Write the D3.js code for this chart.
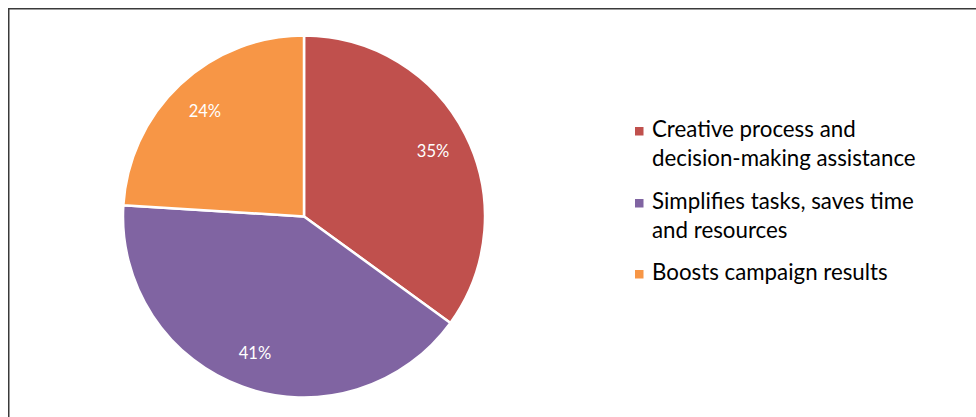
<!DOCTYPE html>
<html>
<head>
<meta charset="utf-8">
<script src="https://cdn.jsdelivr.net/npm/d3@7"></script>
<style>
  html, body { margin: 0; padding: 0; background: #fff; }
  svg { display: block; }
</style>
</head>
<body>
<svg id="chart"></svg>
<script>
const categories = [
  'Creative process and decision-making assistance',
  'Simplifies tasks, saves time and resources',
  'Boosts campaign results',
]
// legend lines as wrapped in the original
const legendLines = [
  ['Creative process and', 'decision-making assistance'],
  ['Simplifies tasks, saves time', 'and resources'],
  ['Boosts campaign results'],
]
const shares = [35, 41, 24]
const colors = ['#C0504D', '#8064A2', '#F79646']

const width = 976
const height = 417
const cx = 304
const cy = 216.5
const radius = 181

const svg = d3.select('#chart').attr('width', width).attr('height', height)

// chart frame (runs off the right and bottom edge)
svg.append('rect')
  .attr('x', 8.75).attr('y', 8.75)
  .attr('width', width + 20).attr('height', height + 20)
  .attr('fill', 'none')
  .attr('stroke', '#3a3a3a')
  .attr('stroke-width', 1.5)

const pie = d3.pie().sort(null).value((d) => d)
const arcs = pie(shares)
const arc = d3.arc().innerRadius(0).outerRadius(radius)
const labelArc = d3.arc().innerRadius(radius * 0.8).outerRadius(radius * 0.8)

const g = svg.append('g').attr('transform', `translate(${cx},${cy})`)

g.selectAll('path')
  .data(arcs)
  .join('path')
  .attr('d', arc)
  .attr('fill', (d, i) => colors[i])
  .attr('stroke', '#fff')
  .attr('stroke-width', 2.5)
  .attr('stroke-linejoin', 'round')

g.selectAll('text.pct')
  .data(arcs)
  .join('text')
  .attr('class', 'pct')
  .attr('transform', (d) => `translate(${labelArc.centroid(d)})`)
  .attr('text-anchor', 'middle')
  .attr('dy', '0.35em')
  .style('font-family', 'Lato, "Open Sans", sans-serif')
  .style('font-size', '16.5px')
  .attr('fill', '#fff')
  .text((d) => `${d.data}%`)

// legend
const legendX = 635
const itemY = d3.scaleOrdinal().domain(categories).range([137, 209, 280])
const lineGap = 28.5

const legend = svg.append('g')
const items = legend.selectAll('g')
  .data(categories)
  .join('g')
  .attr('transform', (d) => `translate(${legendX},${itemY(d)})`)

items.append('rect')
  .attr('x', 0).attr('y', -10)
  .attr('width', 8.5).attr('height', 8.5)
  .attr('fill', (d, i) => colors[i])

items.append('text')
  .attr('x', 17)
  .style('font-family', 'Lato, "Open Sans", sans-serif')
  .style('font-size', '22.3px')
  .attr('fill', '#000')
  .selectAll('tspan')
  .data((d, i) => legendLines[i])
  .join('tspan')
  .attr('x', 17)
  .attr('y', (d, i) => i * lineGap)
  .text((d) => d)
</script>
</body>
</html>
